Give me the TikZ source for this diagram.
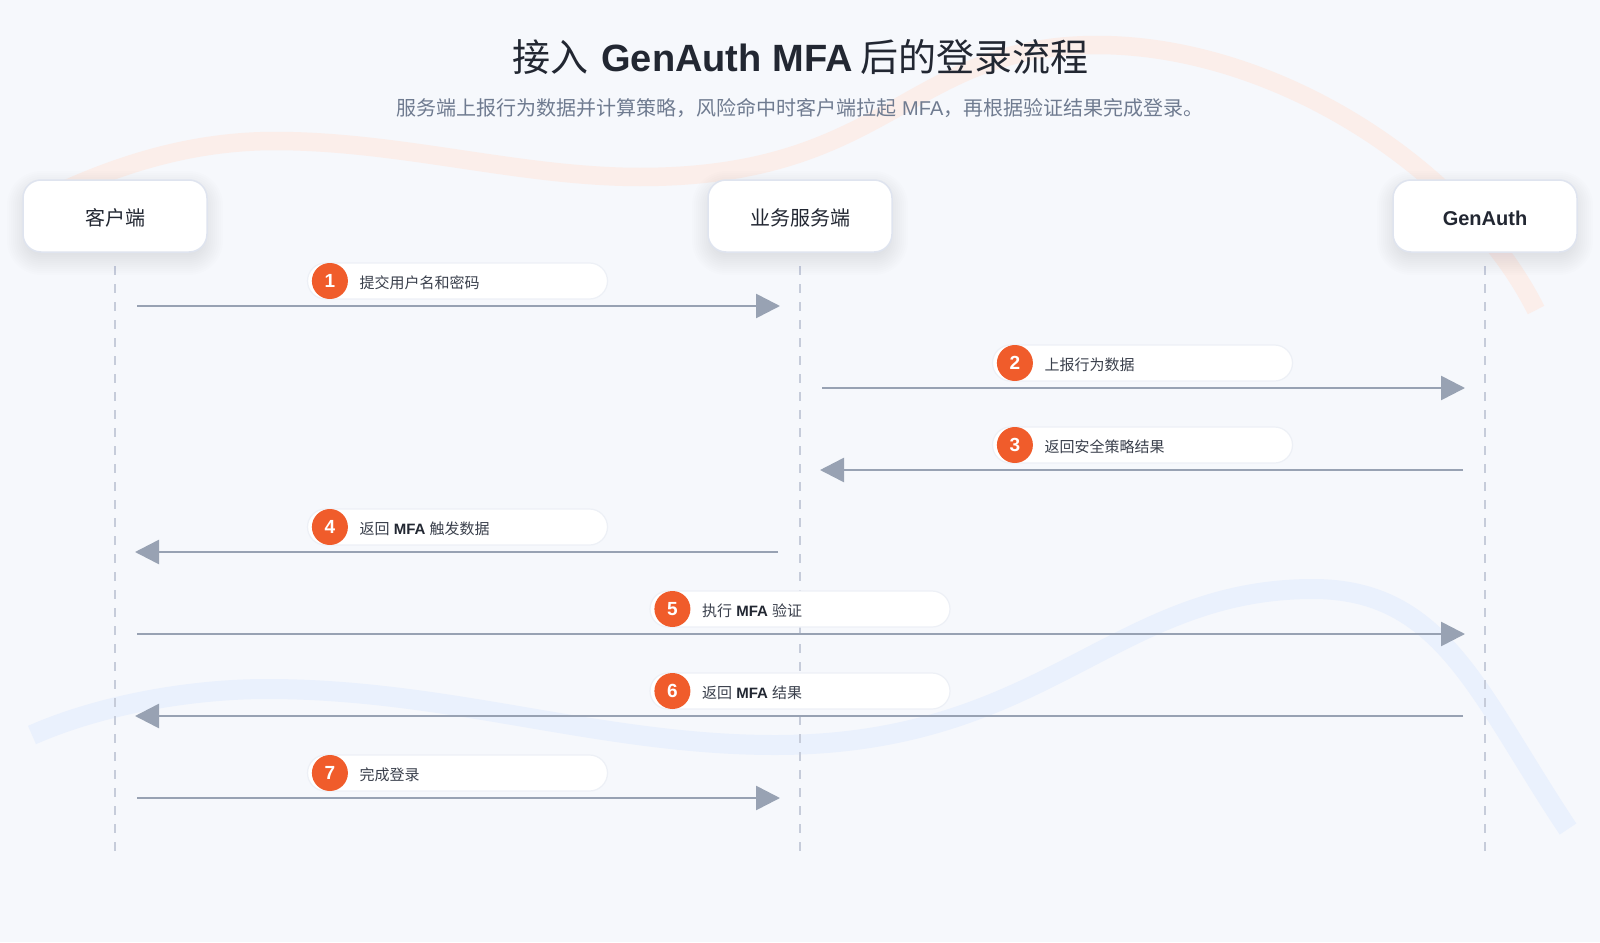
\documentclass[tikz,border=0pt]{standalone}
\usepackage{fontspec}
\setmainfont{Liberation Sans}
\newfontfamily\cjk{Noto Sans CJK SC}
\usetikzlibrary{arrows.meta,calc}
\definecolor{bgc}{HTML}{F6F8FC}
\definecolor{orangeband}{HTML}{FBEEEA}
\definecolor{blueband}{HTML}{EAF1FD}
\definecolor{lifec}{HTML}{C6CCDA}
\definecolor{arrowc}{HTML}{98A2B3}
\definecolor{boxedge}{HTML}{DFE4EF}
\definecolor{pilledge}{HTML}{EDF0F6}
\definecolor{darktext}{HTML}{222732}
\definecolor{subtext}{HTML}{6F7B90}
\definecolor{badge}{HTML}{F05C2B}
\definecolor{pilltext}{HTML}{3A404C}
\definecolor{shadowc}{HTML}{283560}
\tikzset{
  band/.style={line cap=butt},
  lifeline/.style={draw=lifec,line width=2pt,dash pattern=on 8.5pt off 9.5pt},
  actor/.style={rectangle,rounded corners=18pt,draw=boxedge,line width=1.5pt,fill=white,minimum width=184pt,minimum height=72pt,inner sep=0pt},
  actortext/.style={anchor=base,inner sep=0pt,font=\fontsize{20}{24}\selectfont,text=darktext},
  pill/.style={rectangle,rounded corners=18pt,draw=pilledge,line width=1.2pt,fill=white,minimum width=300pt,minimum height=36pt,inner sep=0pt},
  num/.style={circle,fill=badge,minimum size=36pt,inner sep=0pt,text=white,font=\fontsize{19}{20}\selectfont\bfseries},
  steptext/.style={anchor=base west,inner sep=0pt,font=\fontsize{15}{18}\selectfont,text=pilltext},
  msg/.style={draw=arrowc,line width=2.6pt,-{Triangle[length=24pt,width=24pt,fill=arrowc]}},
}
\newcommand{\actorbox}[4]{%
  \foreach \d in {16,14,...,-6}{%
    \pgfmathsetmacro{\rr}{max(18+\d,4)}%
    \fill[shadowc,opacity=0.006,rounded corners=\rr pt] (#2-92-\d,216-36-\d+7) rectangle (#2+92+\d,216+36+\d+7);
  }%
  \node[actor] (#1) at (#2,216) {};
  \node[actortext] (#1t) at (#2,225) {#3#4};
}
\newcommand{\steplabel}[4]{%
  \node[pill] (pill#1) at (#2,#3) {};
  \node[num] (num#1) at ($(pill#1.west)+(23,0)$) {#1};
  \node[steptext] (txt#1) at ($(pill#1.west)+(52.6,7.4)$) {#4};
}
\newcommand{\zh}[1]{{\cjk #1}}
\begin{document}
\begin{tikzpicture}[x=1pt,y=-1pt]
\useasboundingbox (0,0) rectangle (1600,942);
\fill[bgc] (0,0) rectangle (1600,942);
% background bands
\draw[band,orangeband,line width=18.5pt] (60,192) .. controls (130,160) and (200,141) .. (275,141)
  .. controls (400,141) and (520,177) .. (640,177)
  .. controls (890,177) and (907,45) .. (1097,45)
  .. controls (1277,45) and (1466,170) .. (1536,310);
\draw[band,blueband,line width=20pt] (32,735) .. controls (100,705) and (190,689) .. (267,689)
  .. controls (450,689) and (600,745) .. (775,745)
  .. controls (1045,745) and (1113,589) .. (1313,589)
  .. controls (1443,589) and (1478,694) .. (1568,829);
% lifelines
\coordinate (la1) at (115,266); \coordinate (la2) at (115,851);
\coordinate (lb1) at (800,266); \coordinate (lb2) at (800,851);
\coordinate (lc1) at (1485,266); \coordinate (lc2) at (1485,851);
\draw[lifeline] (la1) -- (la2);
\draw[lifeline] (lb1) -- (lb2);
\draw[lifeline] (lc1) -- (lc2);
% actors
\actorbox{client}{115}{\zh{客户端}}{}
\actorbox{server}{800}{\zh{业务服务端}}{}
\actorbox{genauth}{1485}{\textbf{GenAuth}}{}
% step labels
\steplabel{1}{457.5}{281}{\zh{提交用户名和密码}}
\steplabel{2}{1142.5}{363}{\zh{上报行为数据}}
\steplabel{3}{1142.5}{445}{\zh{返回安全策略结果}}
\steplabel{4}{457.5}{527}{\zh{返回} \textbf{\textcolor{darktext}{MFA}} \zh{触发数据}}
\steplabel{5}{800}{609}{\zh{执行} \textbf{\textcolor{darktext}{MFA}} \zh{验证}}
\steplabel{6}{800}{691}{\zh{返回} \textbf{\textcolor{darktext}{MFA}} \zh{结果}}
\steplabel{7}{457.5}{773}{\zh{完成登录}}
% messages
\coordinate (s1) at (137,306); \coordinate (e1) at (780,306);
\coordinate (s2) at (822,388); \coordinate (e2) at (1465,388);
\coordinate (s3) at (1463,470); \coordinate (e3) at (820,470);
\coordinate (s4) at (778,552); \coordinate (e4) at (135,552);
\coordinate (s5) at (137,634); \coordinate (e5) at (1465,634);
\coordinate (s6) at (1463,716); \coordinate (e6) at (135,716);
\coordinate (s7) at (137,798); \coordinate (e7) at (780,798);
\foreach \i in {1,...,7}{\draw[msg] (s\i) -- (e\i);}
% title
\node[anchor=base,inner sep=0pt,font=\fontsize{38}{44}\selectfont,text=darktext] (title) at (800.5,71.5) {\zh{接入} \hspace{2.5pt}\textbf{GenAuth MFA}\hspace{-2.5pt} \zh{后的登录流程}};
\node[anchor=base,inner sep=0pt,font=\fontsize{20}{24}\selectfont,text=subtext] (subtitle) at (800,115) {\zh{服务端上报行为数据并计算策略，风险命中时客户端拉起} MFA\zh{，再根据验证结果完成登录。}};
\end{tikzpicture}
\end{document}
